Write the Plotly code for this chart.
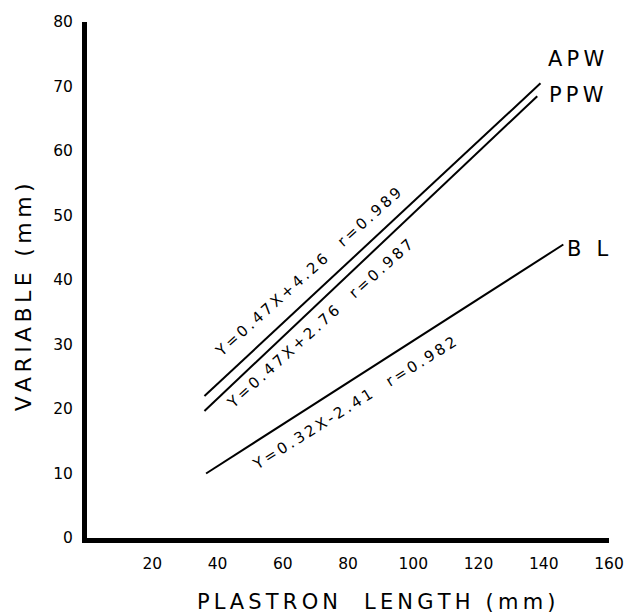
import plotly.graph_objects as go

# Line endpoints (plastron length mm, variable mm)
apw_x = [36, 139]
apw_y = [22.0, 70.5]
ppw_x = [36, 138]
ppw_y = [19.7, 68.5]
bl_x = [36.5, 146]
bl_y = [10.0, 45.5]

series_names = ["APW", "PPW", "B L"]
equations = ["Y=0.47X+4.26", "Y=0.47X+2.76", "Y=0.32X-2.41"]
r_values = ["r=0.989", "r=0.987", "r=0.982"]

x_ticks = [20, 40, 60, 80, 100, 120, 140, 160]
y_ticks = [0, 10, 20, 30, 40, 50, 60, 70, 80]

FONT = "DejaVu Sans"
NB = "\u00a0"
TH = "\u2009"


def spaced(s):
    """Widen letter spacing with thin spaces (reference uses a wide typeface)."""
    return TH.join(NB if c == " " else c for c in s)


fig = go.Figure()
for xs, ys, nm in [(apw_x, apw_y, "APW"), (ppw_x, ppw_y, "PPW"), (bl_x, bl_y, "BL")]:
    fig.add_trace(go.Scatter(x=xs, y=ys, mode="lines", name=nm,
                             line=dict(color="black", width=2), showlegend=False))

# series labels at the line ends
label_pos = [(150.0, 74.2), (150.0, 68.7), (153.5, 44.8)]
for (lx, ly), nm in zip(label_pos, series_names):
    fig.add_annotation(x=lx, y=ly, text=spaced(nm), showarrow=False, xanchor="center",
                       yanchor="middle", font=dict(family=FONT, size=21, color="black"))

# equation labels along the lines
eq_pos = [(67.8, 41.3, -42), (71.3, 33.2, -42), (82.1, 20.9, -32)]
for (ex, ey, ang), eq, rv in zip(eq_pos, equations, r_values):
    txt = spaced(eq) + NB * 4 + spaced(rv)
    fig.add_annotation(x=ex, y=ey, text=txt, showarrow=False, textangle=ang,
                       xanchor="center", yanchor="middle",
                       font=dict(family=FONT, size=15, color="black"))

# axis titles
fig.add_annotation(xref="paper", yref="paper", x=0.555, y=-0.124,
                   text=spaced("PLASTRON  LENGTH (mm)"), showarrow=False,
                   xanchor="center", yanchor="middle",
                   font=dict(family=FONT, size=21, color="black"))
fig.add_annotation(xref="paper", yref="paper", x=-0.122, y=0.467,
                   text=spaced("VARIABLE (mm)"), showarrow=False, textangle=-90,
                   xanchor="center", yanchor="middle",
                   font=dict(family=FONT, size=22, color="black"))

fig.update_layout(
    width=627, height=616,
    margin=dict(l=87, r=18, t=22, b=78),
    paper_bgcolor="white", plot_bgcolor="white",
    font=dict(family=FONT, color="black"),
)
fig.update_xaxes(range=[0, 160], tickvals=x_ticks,
                 ticktext=[str(v) for v in x_ticks],
                 showgrid=False, zeroline=False, showline=True, linewidth=5,
                 linecolor="black", ticks="outside", ticklen=7,
                 tickcolor="rgba(0,0,0,0)", tickfont=dict(size=15.5),
                 ticklabeloverflow="allow", automargin=False)
fig.update_yaxes(range=[0, 80], tickvals=y_ticks,
                 ticktext=[str(v) for v in y_ticks],
                 showgrid=False, zeroline=False, showline=True, linewidth=5,
                 linecolor="black", ticks="outside", ticklen=6,
                 tickcolor="rgba(0,0,0,0)", tickfont=dict(size=15.5),
                 ticklabeloverflow="allow", automargin=False)

# remove the page's default body margin so the figure fills the window exactly
fig.write_html("out.html",
               config={"displayModeBar": False},
               post_script="document.body.style.margin='0';"
                           "document.body.style.overflow='hidden';")
